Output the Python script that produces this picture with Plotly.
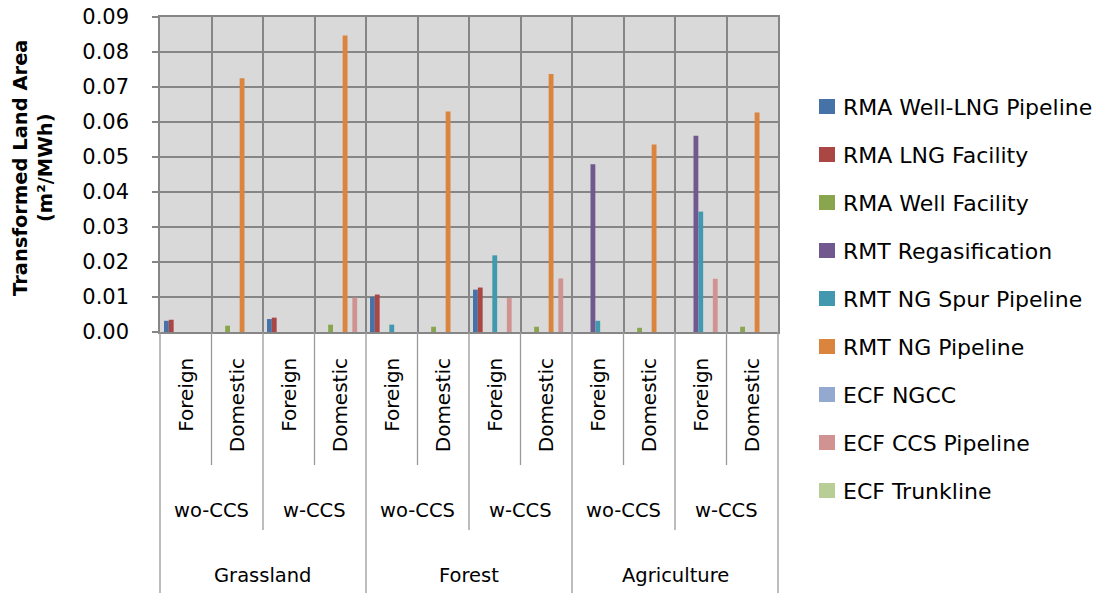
import plotly.graph_objects as go

# ---------------- data ----------------
land = ["Grassland", "Forest", "Agriculture"]
ccs = ["wo-CCS", "w-CCS"]
origin = ["Foreign", "Domestic"]

series_names = [
    "RMA Well-LNG Pipeline", "RMA LNG Facility", "RMA Well Facility",
    "RMT Regasification", "RMT NG Spur Pipeline", "RMT NG Pipeline",
    "ECF NGCC", "ECF CCS Pipeline", "ECF Trunkline",
]
series_colors = ["#4572A7", "#AA4643", "#89A54E", "#71588F", "#4198AF",
                 "#DB843D", "#93A9CF", "#D19392", "#B9CD96"]

# 12 columns: Grassland(wo F, wo D, w F, w D), Forest(...), Agriculture(...)
rma_well_lng_pipeline = [0.0032, 0, 0.0037, 0, 0.0100, 0, 0.0121, 0, 0, 0, 0, 0]
rma_lng_facility = [0.0035, 0, 0.0041, 0, 0.0107, 0, 0.0127, 0, 0, 0, 0, 0]
rma_well_facility = [0, 0.0018, 0, 0.0021, 0, 0.0015, 0, 0.0015, 0, 0.0012, 0, 0.0015]
rmt_regasification = [0, 0, 0, 0, 0, 0, 0, 0, 0.0479, 0, 0.0561, 0]
rmt_ng_spur_pipeline = [0, 0, 0, 0, 0.0021, 0, 0.0219, 0, 0.0032, 0, 0.0344, 0]
rmt_ng_pipeline = [0, 0.0725, 0, 0.0847, 0, 0.0630, 0, 0.0737, 0, 0.0536, 0, 0.0627]
ecf_ngcc = [0] * 12
ecf_ccs_pipeline = [0, 0, 0, 0.0098, 0, 0, 0.0097, 0.0153, 0, 0, 0.0152, 0]
ecf_trunkline = [0] * 12

series_values = [rma_well_lng_pipeline, rma_lng_facility, rma_well_facility,
                 rmt_regasification, rmt_ng_spur_pipeline, rmt_ng_pipeline,
                 ecf_ngcc, ecf_ccs_pipeline, ecf_trunkline]

y_ticks = [0, 0.01, 0.02, 0.03, 0.04, 0.05, 0.06, 0.07, 0.08, 0.09]

# ---------------- layout geometry ----------------
W, H = 1101, 593
L, R, T, B = 160, 323, 17, 261
plot_w = W - L - R
plot_h = H - T - B
FONT = "DejaVu Sans"
GRID = "#868686"
SEP = "#9A9A9A"

n_cat = len(land) * len(ccs) * len(origin)
x_pos = [i + 0.5 for i in range(n_cat)]


def py(pix):  # pixel y -> paper y
    return (H - B - pix) / plot_h


def px(pix):  # pixel x -> paper x
    return (pix - L) / plot_w


fig = go.Figure()
for name, col, vals in zip(series_names, series_colors, series_values):
    fig.add_trace(go.Bar(
        x=x_pos, y=vals, name=name, marker_color=col,
        marker_line_width=0, showlegend=False,
    ))

shapes = []
annotations = []
bottom = py(H + 2)
for k in range(n_cat + 1):
    if k == 0 or k == n_cat or k % 4 == 0:
        y1 = bottom
    elif k % 2 == 0:
        y1 = py(530)
    else:
        y1 = py(465)
    shapes.append(dict(type="line", xref="paper", yref="paper",
                       x0=k / n_cat, x1=k / n_cat, y0=0, y1=y1,
                       line=dict(color=SEP, width=1.3)))

for k in range(n_cat):
    annotations.append(dict(
        text=origin[k % 2], xref="paper", yref="paper",
        x=(k + 0.5) / n_cat, y=py(356), xanchor="center", yanchor="top",
        textangle=-90, showarrow=False,
        font=dict(family=FONT, size=20, color="black")))
for j in range(len(land) * len(ccs)):
    annotations.append(dict(
        text=ccs[j % 2], xref="paper", yref="paper",
        x=(2 * j + 1) / n_cat, y=py(510), xanchor="center", yanchor="middle",
        showarrow=False, font=dict(family=FONT, size=19.5, color="black")))
for g in range(len(land)):
    annotations.append(dict(
        text=land[g], xref="paper", yref="paper",
        x=(4 * g + 2) / n_cat, y=py(575), xanchor="center", yanchor="middle",
        showarrow=False, font=dict(family=FONT, size=19.5, color="black")))

annotations.append(dict(
    text="<b>Transformed Land Area<br>(m²/MWh)</b>", xref="paper", yref="paper",
    x=px(33), y=py(168), xanchor="center", yanchor="middle", textangle=-90,
    showarrow=False, font=dict(family=FONT, size=19.5, color="black")))

# manual legend (keeps the Excel-like spacing)
leg_top, leg_step = 107, 48
for i, (name, col) in enumerate(zip(series_names, series_colors)):
    cy = leg_top + i * leg_step
    shapes.append(dict(type="rect", xref="paper", yref="paper",
                       x0=px(819), x1=px(835), y0=py(cy - 8), y1=py(cy + 7),
                       fillcolor=col, line=dict(width=0)))
    annotations.append(dict(
        text=name, xref="paper", yref="paper", x=px(841), y=py(cy),
        xanchor="left", yanchor="middle", showarrow=False,
        font=dict(family=FONT, size=22, color="black")))

fig.update_layout(
    width=W, height=H,
    margin=dict(l=L, r=R, t=T, b=B, pad=0, autoexpand=False),
    paper_bgcolor="white", plot_bgcolor="#D9D9D9",
    barmode="group", bargap=0.155, bargroupgap=0,
    font=dict(family=FONT, size=20, color="black"),
    showlegend=False,
    shapes=shapes, annotations=annotations,
)
fig.update_xaxes(range=[0, n_cat], tickvals=list(range(n_cat + 1)),
                 showticklabels=False, ticks="", showgrid=True, automargin=False,
                 gridcolor=GRID, gridwidth=1.5, zeroline=False,
                 showline=True, linecolor=GRID, linewidth=1.5, mirror=True)
fig.update_yaxes(range=[0, 0.09], tickvals=y_ticks,
                 ticktext=[f"{v:.2f}" for v in y_ticks], automargin=False,
                 ticks="outside", ticklen=6, tickcolor=GRID, tickwidth=1.5,
                 ticklabelstandoff=19,
                 showgrid=True, gridcolor=GRID, gridwidth=1.5, zeroline=False,
                 showline=True, linecolor=GRID, linewidth=1.5, mirror=True,
                 tickfont=dict(family=FONT, size=21, color="black"))

fig.write_html("out.html", config={"displayModeBar": False},
               post_script="document.body.style.margin='0px';"
                           "document.body.style.overflow='hidden';")
